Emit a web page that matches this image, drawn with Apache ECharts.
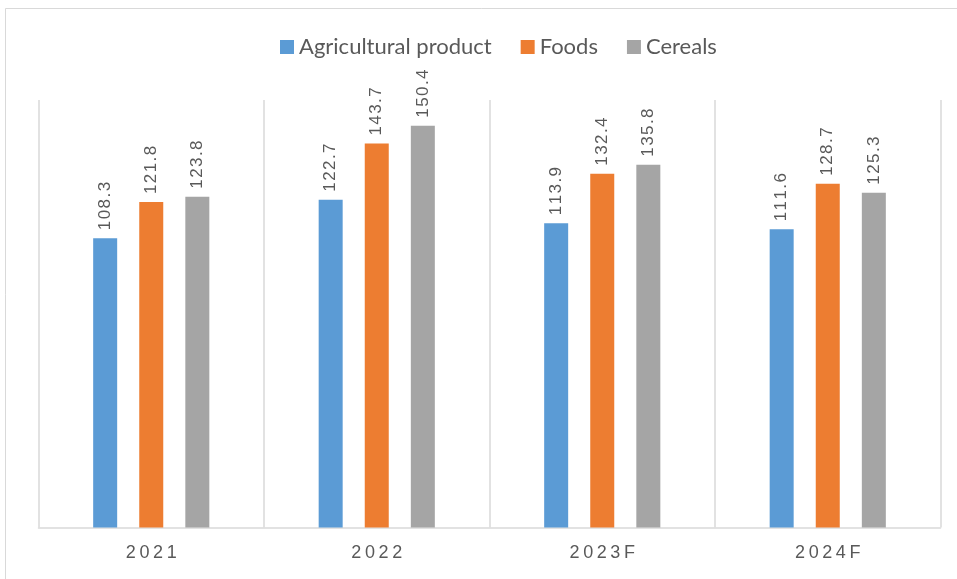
<!DOCTYPE html>
<html>
<head>
<meta charset="utf-8">
<title>Price index</title>
<script src="https://cdn.jsdelivr.net/npm/echarts@6/dist/echarts.min.js"></script>
<style>
  html, body { margin: 0; padding: 0; background: #ffffff; }
  #chart { width: 957px; height: 579px; }
</style>
</head>
<body>
<div id="chart"></div>
<script>
// Index values by year (F = forecast)
const categories = ['2021', '2022', '2023F', '2024F'];
const agricultural = [108.3, 122.7, 113.9, 111.6];
const foods = [121.8, 143.7, 132.4, 128.7];
const cereals = [123.8, 150.4, 135.8, 125.3];
const seriesNames = ['Agricultural product', 'Foods', 'Cereals'];
const seriesColors = ['#5B9BD5', '#ED7D31', '#A5A5A5'];

// spread characters apart a little, like tracked text
const spaced = (s, sep) => String(s).split('').join(sep);

const chart = echarts.init(document.getElementById('chart'), null, { renderer: 'canvas' });

function barSeries(name, data, color) {
  return {
    name: name,
    type: 'bar',
    data: data,
    barWidth: 24,
    barGap: '92%',
    itemStyle: { color: color },
    label: {
      show: true,
      position: 'top',
      rotate: 90,
      align: 'left',
      verticalAlign: 'middle',
      distance: 8,
      color: '#595959',
      fontFamily: 'Liberation Sans, Arial, sans-serif',
      fontSize: 17,
      formatter: p => spaced(p.value.toFixed(1), '\u200A')
    }
  };
}

chart.setOption({
  animation: false,
  backgroundColor: '#ffffff',
  graphic: [{
    type: 'rect',
    shape: { x: 5.5, y: 8.5, width: 1000, height: 1000 },
    style: { fill: 'none', stroke: '#d9d9d9', lineWidth: 1 },
    silent: true
  }],
  legend: {
    top: 31,
    left: 275,
    itemWidth: 14,
    itemHeight: 14,
    itemGap: 29,
    icon: 'rect',
    textStyle: {
      color: '#595959',
      fontFamily: 'Lato, Liberation Sans, sans-serif',
      fontSize: 22
    },
    data: seriesNames
  },
  grid: { left: 38.5, right: 16.5, top: 100, bottom: 51.5, containLabel: false },
  xAxis: {
    type: 'category',
    data: categories,
    axisLine: { lineStyle: { color: '#d9d9d9', width: 1.5 } },
    axisTick: { show: false },
    splitLine: { show: true, lineStyle: { color: '#d9d9d9', width: 1.5 } },
    axisLabel: {
      color: '#595959',
      fontFamily: 'Liberation Sans, Arial, sans-serif',
      fontSize: 18,
      margin: 17,
      formatter: v => spaced(v, '\u2009')
    }
  },
  yAxis: {
    type: 'value',
    min: 0,
    max: 160,
    show: false,
    splitLine: { show: false }
  },
  series: [
    barSeries(seriesNames[0], agricultural, seriesColors[0]),
    barSeries(seriesNames[1], foods, seriesColors[1]),
    barSeries(seriesNames[2], cereals, seriesColors[2])
  ]
});
</script>
</body>
</html>
